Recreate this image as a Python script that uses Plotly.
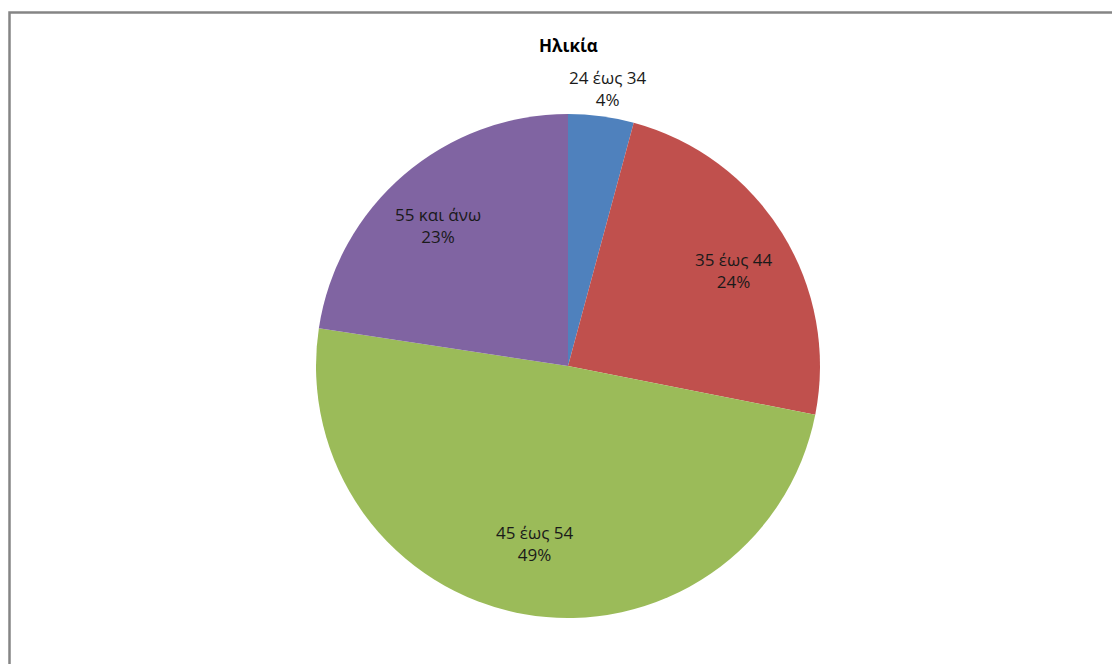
import math
import plotly.graph_objects as go

W, H = 1120, 664
OFF = 8  # page body margin: figure is drawn 8px right/down

labels = ["24 έως 34", "35 έως 44", "45 έως 54", "55 και άνω"]
values = [4.2, 23.9, 49.3, 22.6]
colors = ["#4F81BD", "#C0504D", "#9BBB59", "#8064A2"]
label_radius = [1.12, 0.72, 0.72, 0.74]  # fraction of radius where each label sits
title_text = "Ηλικία"

# pie centre / radius in page pixels
cx_p, cy_p, r = 568, 366, 252
cx, cy = cx_p - OFF, cy_p - OFF
rx, ry = 270, 250  # label placement follows the original elliptical pie

fig = go.Figure()
fig.add_trace(go.Pie(
    labels=labels,
    values=values,
    sort=False,
    direction="clockwise",
    rotation=0,
    marker=dict(colors=colors, line=dict(width=0)),
    textinfo="none",
    showlegend=False,
    hoverinfo="label+percent",
    automargin=False,
    domain=dict(x=[(cx - r) / W, (cx + r) / W], y=[1 - (cy + r) / H, 1 - (cy - r) / H]),
))

total = sum(values)
cum = 0.0
for lab, v, k in zip(labels, values, label_radius):
    mid = (cum + v / 2) / total * 2 * math.pi
    cum += v
    px = cx + k * rx * math.sin(mid)
    py = cy - k * ry * math.cos(mid)
    pct = round(v / total * 100)
    fig.add_annotation(
        text=f"{lab}<br>{pct}%",
        x=px / W, y=1 - py / H, xref="paper", yref="paper",
        showarrow=False, align="center",
        font=dict(family="Open Sans", size=17, color="#1a1a1a"),
        xanchor="center", yanchor="middle",
    )

fig.add_annotation(
    text="<b>" + title_text + "</b>",
    x=(568 - OFF) / W, y=1 - (45 - OFF) / H, xref="paper", yref="paper",
    showarrow=False, font=dict(family="Open Sans", size=17, color="#000000"),
    xanchor="center", yanchor="middle",
)

fig.add_shape(
    type="rect", xref="paper", yref="paper",
    x0=1.5 / W, x1=1.05, y0=-0.05, y1=1 - 4.5 / H,
    line=dict(color="#858585", width=2.5), fillcolor="rgba(0,0,0,0)", layer="below",
)

fig.update_layout(
    width=W, height=H,
    margin=dict(l=0, r=0, t=0, b=0),
    paper_bgcolor="white",
    plot_bgcolor="white",
)

fig.write_html("out.html")
